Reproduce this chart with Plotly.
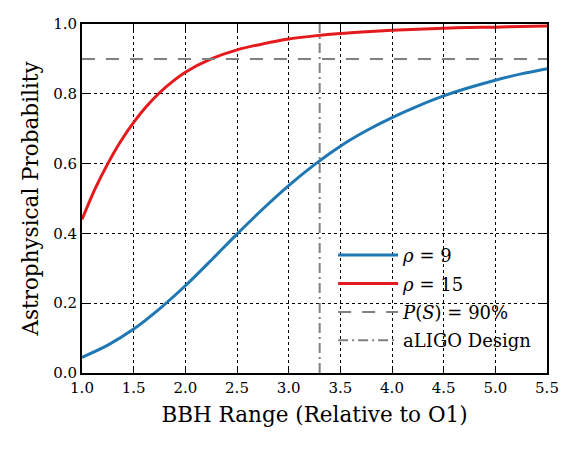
import plotly.graph_objects as go

# Data
x_range = [1.0, 1.25, 1.5, 1.75, 2.0, 2.25, 2.5, 2.75, 3.0, 3.25, 3.5, 3.75, 4.0, 4.25, 4.5, 4.75, 5.0, 5.25, 5.5]
p_rho9 = [0.045, 0.080, 0.126, 0.184, 0.250, 0.323, 0.398, 0.470, 0.537, 0.597, 0.650, 0.694, 0.732, 0.765, 0.794, 0.818, 0.839, 0.857, 0.872]
x_range15 = [1.0, 1.125, 1.25, 1.375, 1.5, 1.625, 1.75, 1.875, 2.0, 2.25, 2.5, 2.75, 3.0, 3.25, 3.5, 3.75, 4.0, 4.25, 4.5, 4.75, 5.0, 5.25, 5.5]
p_rho15 = [0.440, 0.527, 0.600, 0.664, 0.718, 0.764, 0.803, 0.835, 0.862, 0.900, 0.926, 0.943, 0.957, 0.966, 0.973, 0.978, 0.982, 0.985, 0.988, 0.990, 0.991, 0.993, 0.994]
threshold_x = [1.0, 5.5]
threshold_y = [0.9, 0.9]
design_x = [3.3, 3.3]
design_y = [0.0, 1.0]

xticks = [1.0, 1.5, 2.0, 2.5, 3.0, 3.5, 4.0, 4.5, 5.0, 5.5]
yticks = [0.0, 0.2, 0.4, 0.6, 0.8, 1.0]

FONT = "DejaVu Serif"

fig = go.Figure()
fig.add_trace(go.Scatter(x=x_range, y=p_rho9, mode="lines", name="<i>ρ</i> = 9", legendgroup="a",
                         line=dict(color="#1f77b4", width=3, shape="spline", smoothing=0.8)))
fig.add_trace(go.Scatter(x=x_range15, y=p_rho15, mode="lines", name="<i>ρ</i> = 15", legendgroup="b",
                         line=dict(color="#e41a1c", width=3, shape="spline", smoothing=0.8)))
fig.add_trace(go.Scatter(x=threshold_x, y=threshold_y, mode="lines", name="<i>P</i>(<i>S</i>) = 90%", legendgroup="c",
                         line=dict(color="#808080", width=2, dash="13px,11px")))
fig.add_trace(go.Scatter(x=design_x, y=design_y, mode="lines", name="aLIGO Design", legendgroup="d",
                         line=dict(color="#808080", width=2, dash="10px,4px,2px,4px")))

axis_common = dict(
    showline=True, linecolor="black", linewidth=2, mirror="ticks",
    ticks="inside", ticklen=6, tickwidth=1, tickcolor="black",
    showgrid=True, gridcolor="black", gridwidth=1, griddash="dot",
    zeroline=False, tickfont=dict(family=FONT, size=15, color="black"),
)

fig.update_xaxes(range=[1.0, 5.5], tickvals=xticks, ticktext=[f"{v:.1f}" for v in xticks],
                 title=dict(text="BBH Range (Relative to O1)", font=dict(family=FONT, size=21.5, color="black"), standoff=11),
                 **axis_common)
fig.update_yaxes(range=[0.0, 1.0], tickvals=yticks, ticktext=[f"{v:.1f}" for v in yticks],
                 title=dict(text="Astrophysical Probability", font=dict(family=FONT, size=21.5, color="black"), standoff=9),
                 **axis_common)

fig.update_layout(
    width=576, height=451,
    margin=dict(l=82, r=29, t=24, b=78),
    plot_bgcolor="white", paper_bgcolor="white",
    font=dict(family=FONT, color="black"),
    legend=dict(x=0.54, y=0.39, xanchor="left", yanchor="top",
                bgcolor="rgba(255,255,255,0)", borderwidth=0,
                font=dict(family=FONT, size=18, color="black"),
                itemwidth=60, tracegroupgap=2),
    showlegend=True,
)

fig.write_html("out.html")
